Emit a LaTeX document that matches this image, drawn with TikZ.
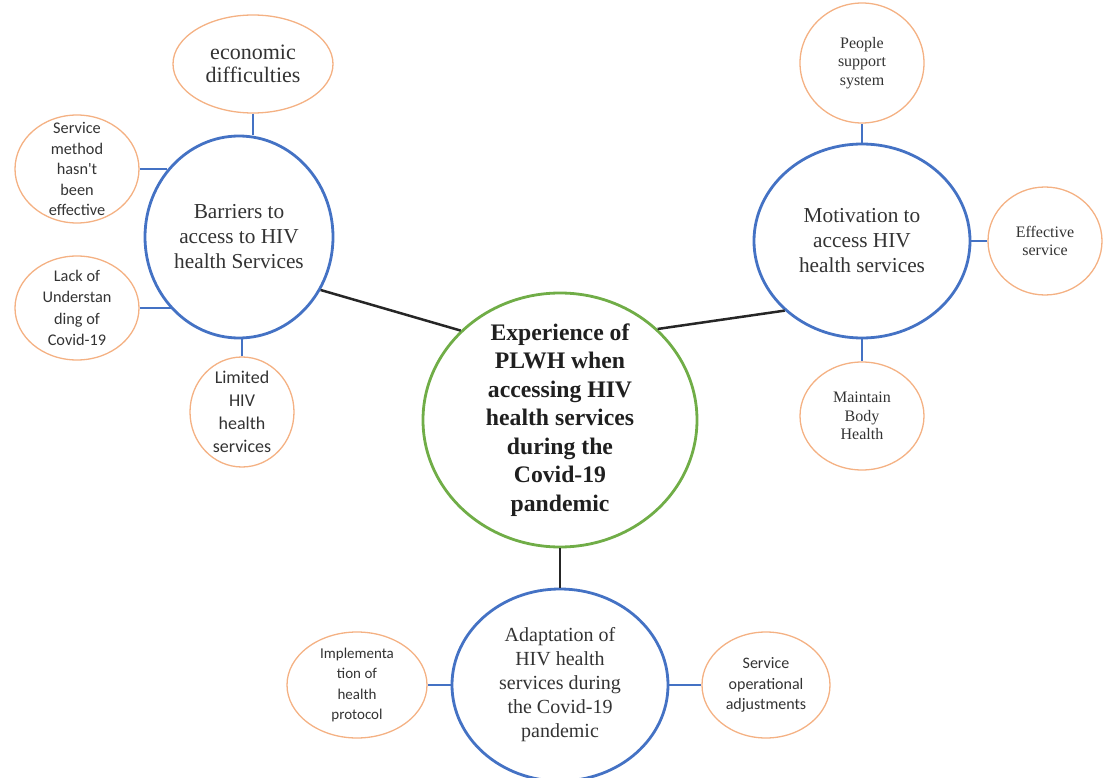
\documentclass[tikz,border=0pt]{standalone}
\usepackage{fontspec}
\setmainfont{Liberation Serif}
\newfontfamily\calibri{Carlito}
\usetikzlibrary{shapes.geometric}
\definecolor{ringblue}{RGB}{68,114,196}
\definecolor{ringorange}{RGB}{244,177,131}
\definecolor{ringgreen}{RGB}{112,173,71}
\definecolor{txtgray}{RGB}{51,51,51}

\begin{document}
\begin{tikzpicture}[x=1pt,y=-1pt,
	bubble/.style={ellipse, align=center, inner sep=-12pt, text=txtgray},
	mainring/.style={bubble, draw=ringgreen, line width=2.8pt, text=black!88,
		font=\bfseries\fontsize{23.7}{28.5}\selectfont},
	bluering/.style={bubble, draw=ringblue, line width=2.8pt, font=\fontsize{21.3}{25}\selectfont},
	subring/.style={bubble, draw=ringorange, line width=1.3pt},
	serifsub/.style={subring, font=\fontsize{16}{18.7}\selectfont},
	sanssub/.style={subring, font=\calibri\fontsize{16.3}{20.5}\selectfont}, 
	bluelink/.style={draw=ringblue, line width=2.8pt},
	blacklink/.style={draw=black!85, line width=2.5pt}]
	\useasboundingbox (0,0) rectangle (1104,778);
	% centre
	\node [mainring, minimum width=274pt, minimum height=254pt] (exper) at (560,420)
		{Experience of\\PLWH when\\accessing HIV\\health services\\during the\\Covid-19\\pandemic};
	% barriers
	\node [bluering, minimum width=188pt, minimum height=202pt] (barriers) at (239,237)
		{Barriers to\\access to HIV\\health Services};
	\node [subring, minimum width=160pt, minimum height=98pt, font=\fontsize{22}{23.5}\selectfont] (econ) at (253,64)
		{economic\\difficulties};
	\node [sanssub, minimum width=124pt, minimum height=108pt] (svc) at (77,169)
		{Service\\method\\hasn't\\been\\effective};
	\node [sanssub, minimum width=124pt, minimum height=104pt, font=\calibri\fontsize{16.3}{21.5}\selectfont] (lack) at (77,308)
		{Lack of\\Understan\\ding of\\Covid-19};
	\node [sanssub, minimum width=104pt, minimum height=110pt, font=\calibri\fontsize{18}{23}\selectfont] (limited) at (242,412)
		{Limited\\HIV\\health\\services};
	% motivation
	\node [bluering, minimum width=216pt, minimum height=194pt] (mot) at (862,241)
		{Motivation to\\access HIV\\health services};
	\node [serifsub, minimum width=124pt, minimum height=120pt] (people) at (862,63)
		{People\\support\\system};
	\node [serifsub, minimum width=114pt, minimum height=108pt] (eff) at (1045,241)
		{Effective\\service};
	\node [serifsub, minimum width=124pt, minimum height=108pt] (maint) at (862,416)
		{Maintain\\Body\\Health};
	% adaptation
	\node [bluering, minimum width=216pt, minimum height=192pt, font=\fontsize{20}{24}\selectfont] (adapt) at (560,685)
		{Adaptation of\\HIV health\\services during\\the Covid-19\\pandemic};
	\node [sanssub, minimum width=140pt, minimum height=106pt, font=\calibri\fontsize{15}{20.5}\selectfont] (impl) at (357,685)
		{Implementa\\tion of\\health\\protocol};
	\node [sanssub, minimum width=128pt, minimum height=106pt, font=\calibri\fontsize{16}{20.5}\selectfont] (servop) at (766,685)
		{Service\\operational\\adjustments};

	% blue links
	\draw [bluelink] (econ.south) -- (econ.south |- barriers.north);
	\draw [bluelink] (svc.east) -- (svc.east -| barriers.137);
	\draw [bluelink] (lack.east) -- (lack.east -| barriers.227);
	\draw [bluelink] (limited.north) -- (limited.north |- barriers.south);
	\foreach \s in {people, eff, maint}
		\draw [bluelink] (mot) -- (\s);
	\foreach \s in {impl, servop}
		\draw [bluelink] (adapt) -- (\s);
	% black links
	\draw [blacklink] (barriers.-33) -- (exper.138);
	\draw [blacklink] (exper.43) -- (mot.222);
	\draw [blacklink] (exper) -- (adapt);
\end{tikzpicture}
\end{document}
